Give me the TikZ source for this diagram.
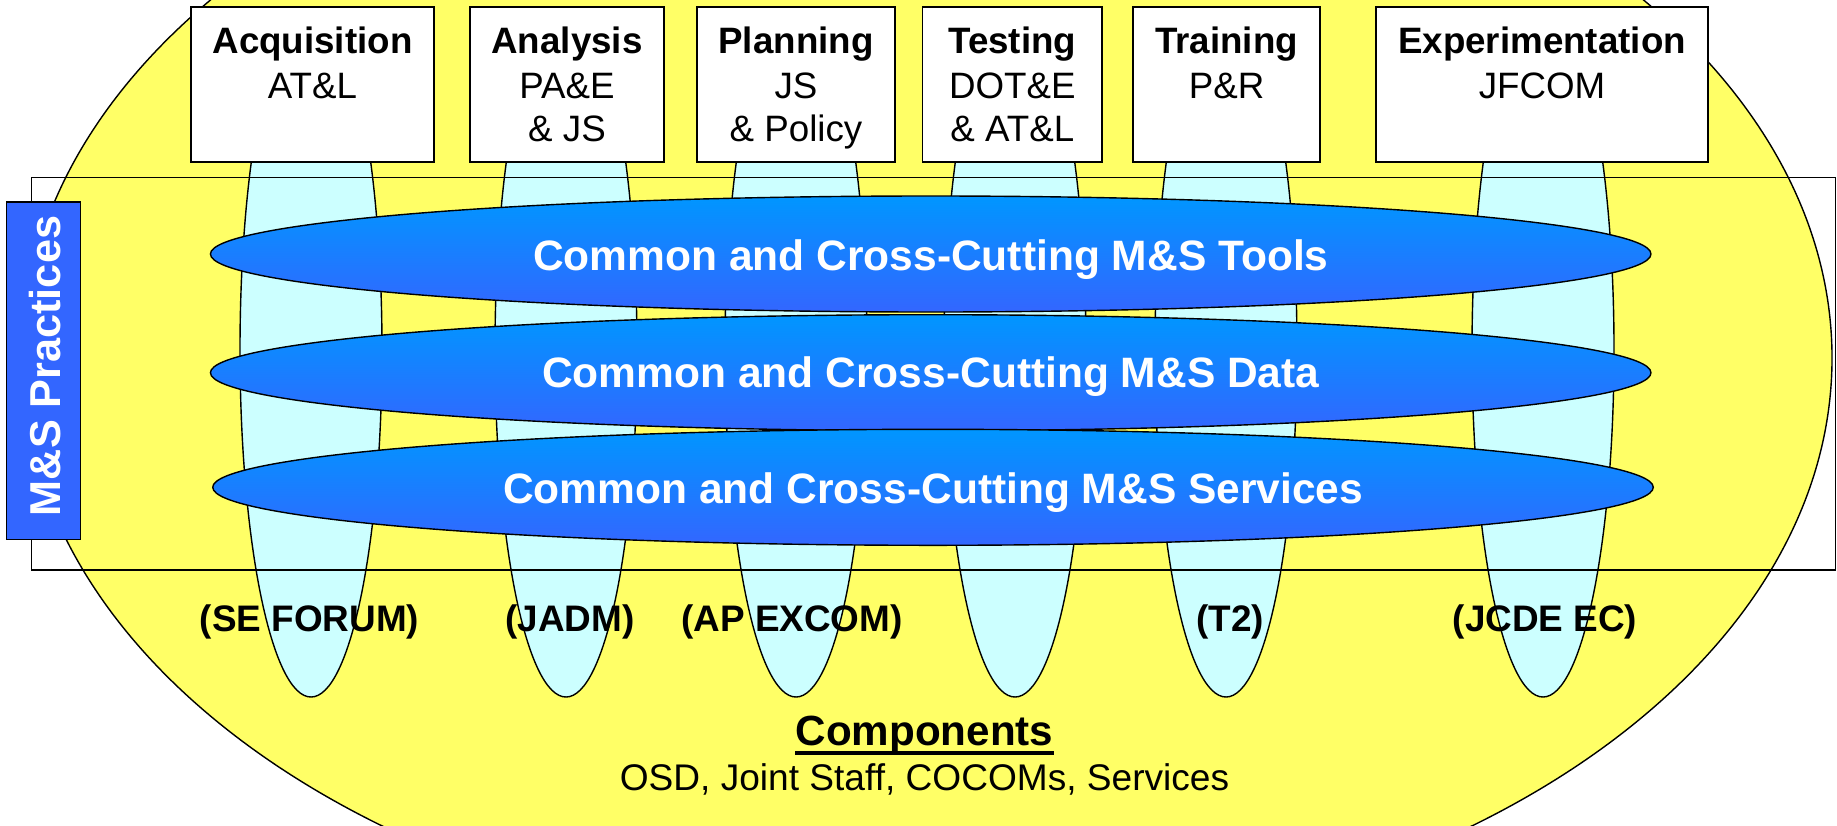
\documentclass[tikz,border=0pt]{standalone}
\usepackage{fontspec}
\setmainfont{Liberation Sans}
\usetikzlibrary{shapes.geometric}
\definecolor{ylw}{RGB}{255,255,102}
\definecolor{cyn}{RGB}{204,255,255}
\definecolor{blueA}{RGB}{0,150,255}
\definecolor{blueB}{RGB}{51,102,255}
\definecolor{pracblue}{RGB}{51,102,255}
\begin{document}
\begin{tikzpicture}[x=0.2mm,y=-0.2mm,
  outl/.style={draw=black, line width=0.28mm},
  orgbox/.style={draw=black, line width=0.36mm, fill=white, inner sep=0, minimum height=31.12mm},
  ttl/.style={font=\fontsize{20.9}{25}\selectfont\bfseries, anchor=base, inner sep=0},
  sub/.style={font=\fontsize{20.9}{25}\selectfont, anchor=base, inner sep=0},
  band/.style={ellipse, draw=black, line width=0.28mm, top color=blueA, bottom color=blueB, inner sep=0, minimum width=288.1mm, minimum height=23.2mm},
  bandtxt/.style={font=\fontsize{24.2}{28}\selectfont\bfseries, text=white, anchor=base, inner sep=0},
  lab/.style={font=\fontsize{21}{25}\selectfont\bfseries, anchor=base, inner sep=0},
  framebox/.style={draw=black, line width=0.3mm, inner sep=0, minimum width=360.7mm, minimum height=78.5mm},
  pracbox/.style={draw=black, line width=0.3mm, fill=pracblue, inner sep=0, minimum width=14.8mm, minimum height=67.5mm},
  practxt/.style={font=\fontsize{24.6}{28}\selectfont\bfseries, text=white, inner sep=0}
]
\useasboundingbox (0,0) rectangle (1837,825);
\clip (0,0) rectangle (1837,825);
\fill[white] (0,0) rectangle (1837,825);
% big yellow ellipse
\draw[outl, fill=ylw] (927,358) ellipse [x radius=181.0mm, y radius=117.2mm];
% cyan balloons
\begin{scope}
\clip (0,60) rectangle (1837,825);
\foreach \cx in {311,566,796,1015,1226,1543}
  \draw[outl, fill=cyn] (\cx,350) ellipse [x radius=14.2mm, y radius=69.4mm];
\end{scope}
% frame
\node[framebox] (frm) at (933.5,373.9) {};
% organisation boxes
\node[orgbox, minimum width=48.6mm] (acq) at (312.5,84.5) {};
\node[orgbox, minimum width=38.8mm] (ana) at (567,84.5) {};
\node[orgbox, minimum width=39.6mm] (pla) at (796,84.5) {};
\node[orgbox, minimum width=35.9mm] (tes) at (1012.3,84.5) {};
\node[orgbox, minimum width=37.4mm] (tra) at (1226.5,84.5) {};
\node[orgbox, minimum width=66.4mm] (exp) at (1542,84.5) {};
\node[ttl] (acq1) at (312.5,53.3) {Acquisition};
\node[sub] (acq2) at (312.5,98.3) {AT\&L};
\node[ttl] (ana1) at (567,53.3) {Analysis};
\node[sub] (ana2) at (567,98.3) {PA\&E};
\node[sub] (ana3) at (567,141.7) {\& JS};
\node[ttl] (pla1) at (796,53.3) {Planning};
\node[sub] (pla2) at (796,98.3) {JS};
\node[sub] (pla3) at (796,141.7) {\& Policy};
\node[ttl] (tes1) at (1012.3,53.3) {Testing};
\node[sub] (tes2) at (1012.3,98.3) {DOT\&E};
\node[sub] (tes3) at (1012.3,141.7) {\& AT\&L};
\node[ttl] (tra1) at (1226.5,53.3) {Training};
\node[sub] (tra2) at (1226.5,98.3) {P\&R};
\node[ttl] (exp1) at (1542,53.3) {Experimentation};
\node[sub] (exp2) at (1542,98.3) {JFCOM};
% blue bands
\node[band] (tools) at (930.7,254) {};
\node[band] (data) at (930.7,372.7) {};
\node[band] (serv) at (933,487.3) {};
\node[bandtxt] (toolst) at (930.8,270) {Common and Cross-Cutting M\&S Tools};
\node[bandtxt] (datat) at (930.8,387.5) {Common and Cross-Cutting M\&S Data};
\node[bandtxt] (servt) at (933.2,503.3) {Common and Cross-Cutting M\&S Services};
% practices
\node[pracbox] (prac) at (43.3,370.5) {};
\node[practxt, rotate=90, anchor=base] (pract) at (60,366) {M\&S Practices};
% bottom labels
\node[lab] (l1) at (309.5,631.7) {(SE FORUM)};
\node[lab] (l2) at (570,631.7) {(JADM)};
\node[lab] (l3) at (792,631.7) {(AP EXCOM)};
\node[lab] (l5) at (1230,631.7) {(T2)};
\node[lab] (l6) at (1545,631.7) {(JCDE EC)};
% components
\node[font=\fontsize{24}{28}\selectfont\bfseries, anchor=base, inner sep=0] (comp) at (924.5,745) {Components};
\draw[line width=0.8mm] ([yshift=-1.54mm]comp.base west) -- ([yshift=-1.54mm]comp.base east);
\node[font=\fontsize{21.1}{25}\selectfont, anchor=base, inner sep=0] (compl) at (924.5,790) {OSD, Joint Staff, COCOMs, Services};
\end{tikzpicture}
\end{document}
